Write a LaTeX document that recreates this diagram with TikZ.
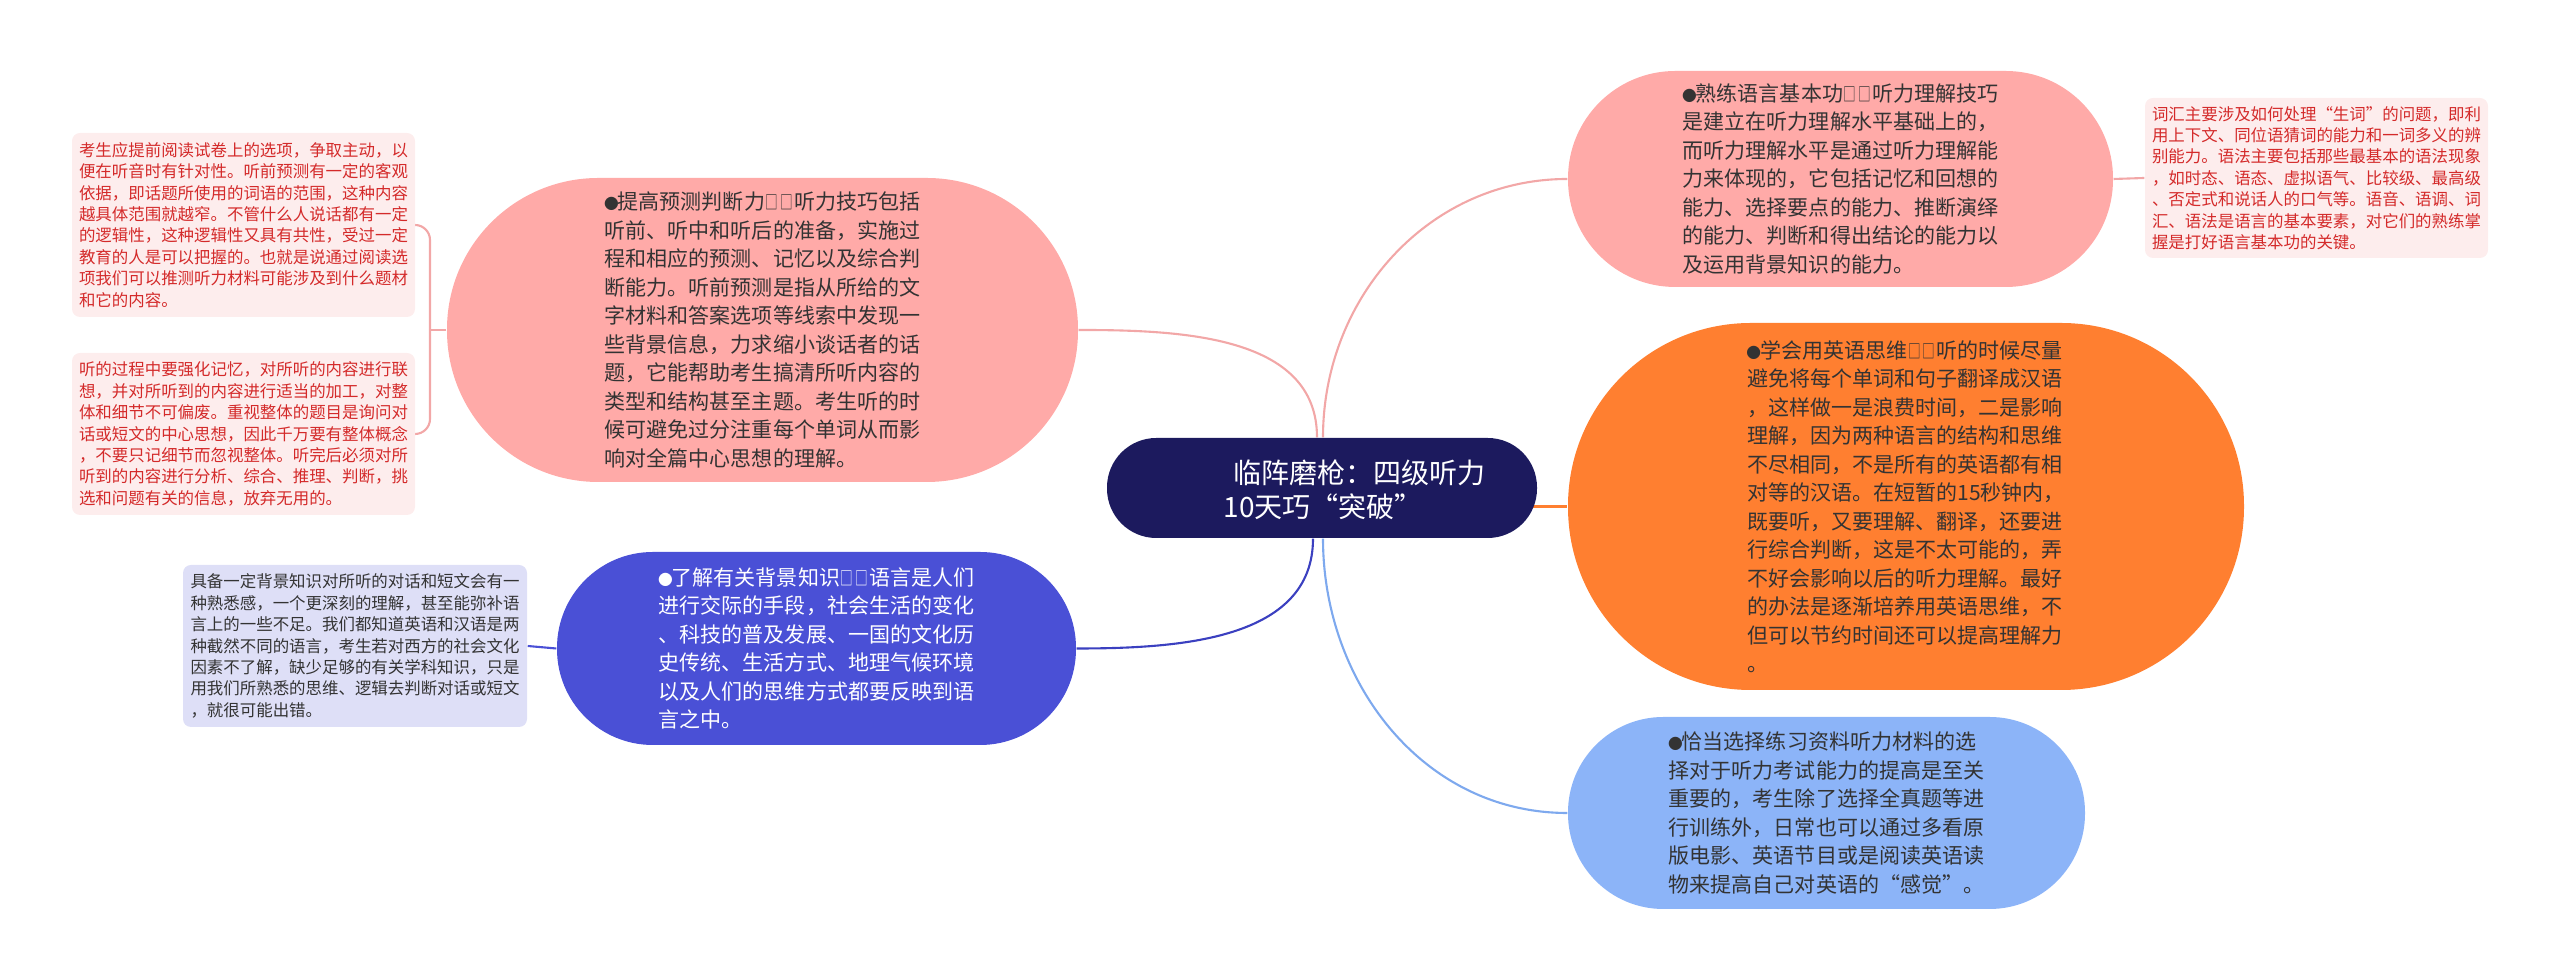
\documentclass[tikz,border=0pt]{standalone}
\usepackage{fontspec}
\setmainfont{Noto Sans CJK SC}
\usetikzlibrary{backgrounds}

\definecolor{rootblue}{HTML}{1C1A5E}
\definecolor{pinkfill}{HTML}{FFAAA8}
\definecolor{pinkline}{HTML}{F2A7A7}
\definecolor{orangefill}{HTML}{FF7F30}
\definecolor{skyfill}{HTML}{8CB4F8}
\definecolor{skyline}{HTML}{7EA9EE}
\definecolor{indigofill}{HTML}{4A50D6}
\definecolor{indigoline}{HTML}{3B40C0}
\definecolor{leafpink}{HTML}{FDEDED}
\definecolor{leafred}{HTML}{D42A2A}
\definecolor{leafblue}{HTML}{DEDFF7}
\definecolor{bodytext}{HTML}{333333}

\newcommand{\bul}{\makebox[0.62em][c]{\scalebox{0.7}{●}}}
\newcommand{\tofu}{\makebox[0.69em][c]{\scalebox{0.6}[0.9]{□}}}

\begin{document}
\begin{tikzpicture}[
  pill/.style 2 args={minimum width=#1, minimum height=#2,
                      rounded corners=#2/2-0.2pt, inner sep=0pt, align=left},
  topictext/.style={font=\fontsize{5.98pt}{8.11pt}\selectfont, text=bodytext, align=left},
  leaf/.style 2 args={minimum width=#1, minimum height=#2, rounded corners=0.08cm,
                      inner sep=0pt, align=left, font=\fontsize{4.68pt}{6.09pt}\selectfont},
  link/.style={line width=0.6pt}
]
\useasboundingbox (0,0) rectangle (25.60,-9.77);

% ---- central topic ----
\node[pill={4.30cm}{1.00cm}, fill=rootblue] (root) at (13.22,-4.88) {};
\node[anchor=west, align=left, text=white, inner sep=0pt,
      font=\fontsize{7.97pt}{9.67pt}\selectfont] (rootlabel) at (12.23,-4.90)
  {\hspace*{0.36em}临阵磨枪：四级听力\\10天巧“突破”};

% ---- right branches ----
\node[pill={5.45cm}{2.16cm}, fill=pinkfill, topictext] (t1) at (18.405,-1.79)
  {\bul 熟练语言基本功\tofu\tofu 听力理解技巧\\
   是建立在听力理解水平基础上的，\\
   而听力理解水平是通过听力理解能\\
   力来体现的，它包括记忆和回想的\\
   能力、选择要点的能力、推断演绎\\
   的能力、判断和得出结论的能力以\\
   及运用背景知识的能力。};

\node[pill={6.76cm}{3.67cm}, fill=orangefill, topictext] (t2) at (19.06,-5.065)
  {\bul 学会用英语思维\tofu\tofu 听的时候尽量\\
   避免将每个单词和句子翻译成汉语\\
   ，这样做一是浪费时间，二是影响\\
   理解，因为两种语言的结构和思维\\
   不尽相同，不是所有的英语都有相\\
   对等的汉语。在短暂的15秒钟内，\\
   既要听，又要理解、翻译，还要进\\
   行综合判断，这是不太可能的，弄\\
   不好会影响以后的听力理解。最好\\
   的办法是逐渐培养用英语思维，不\\
   但可以节约时间还可以提高理解力\\
   。};

\node[pill={5.17cm}{1.92cm}, fill=skyfill, topictext] (t3) at (18.265,-8.13)
  {\bul 恰当选择练习资料听力材料的选\\
   择对于听力考试能力的提高是至关\\
   重要的，考生除了选择全真题等进\\
   行训练外，日常也可以通过多看原\\
   版电影、英语节目或是阅读英语读\\
   物来提高自己对英语的“感觉”。};

% ---- left branches ----
\node[pill={6.31cm}{3.04cm}, fill=pinkfill, topictext] (t4) at (7.625,-3.30)
  {\bul 提高预测判断力\tofu\tofu 听力技巧包括\\
   听前、听中和听后的准备，实施过\\
   程和相应的预测、记忆以及综合判\\
   断能力。听前预测是指从所给的文\\
   字材料和答案选项等线索中发现一\\
   些背景信息，力求缩小谈话者的话\\
   题，它能帮助考生搞清所听内容的\\
   类型和结构甚至主题。考生听的时\\
   候可避免过分注重每个单词从而影\\
   响对全篇中心思想的理解。};

\node[pill={5.19cm}{1.93cm}, fill=indigofill, topictext, text=white] (t5) at (8.165,-6.485)
  {\bul 了解有关背景知识\tofu\tofu 语言是人们\\
   进行交际的手段，社会生活的变化\\
   、科技的普及发展、一国的文化历\\
   史传统、生活方式、地理气候环境\\
   以及人们的思维方式都要反映到语\\
   言之中。};

% ---- leaves ----
\node[leaf={3.43cm}{1.84cm}, fill=leafpink, text=leafred] (l1) at (2.435,-2.25)
  {考生应提前阅读试卷上的选项，争取主动，以\\
   便在听音时有针对性。听前预测有一定的客观\\
   依据，即话题所使用的词语的范围，这种内容\\
   越具体范围就越窄。不管什么人说话都有一定\\
   的逻辑性，这种逻辑性又具有共性，受过一定\\
   教育的人是可以把握的。也就是说通过阅读选\\
   项我们可以推测听力材料可能涉及到什么题材\\
   和它的内容。};

\node[leaf={3.43cm}{1.62cm}, fill=leafpink, text=leafred] (l2) at (2.435,-4.34)
  {听的过程中要强化记忆，对所听的内容进行联\\
   想，并对所听到的内容进行适当的加工，对整\\
   体和细节不可偏废。重视整体的题目是询问对\\
   话或短文的中心思想，因此千万要有整体概念\\
   ，不要只记细节而忽视整体。听完后必须对所\\
   听到的内容进行分析、综合、推理、判断，挑\\
   选和问题有关的信息，放弃无用的。};

\node[leaf={3.44cm}{1.62cm}, fill=leafblue, text=bodytext] (l3) at (3.55,-6.46)
  {具备一定背景知识对所听的对话和短文会有一\\
   种熟悉感，一个更深刻的理解，甚至能弥补语\\
   言上的一些不足。我们都知道英语和汉语是两\\
   种截然不同的语言，考生若对西方的社会文化\\
   因素不了解，缺少足够的有关学科知识，只是\\
   用我们所熟悉的思维、逻辑去判断对话或短文\\
   ，就很可能出错。};

\node[leaf={3.43cm}{1.60cm}, fill=leafpink, text=leafred] (l4) at (23.165,-1.78)
  {词汇主要涉及如何处理“生词”的问题，即利\\
   用上下文、同位语猜词的能力和一词多义的辨\\
   别能力。语法主要包括那些最基本的语法现象\\
   ，如时态、语态、虚拟语气、比较级、最高级\\
   、否定式和说话人的口气等。语音、语调、词\\
   汇、语法是语言的基本要素，对它们的熟练掌\\
   握是打好语言基本功的关键。};

\coordinate (fork) at (4.30,-3.30);

% ---- connectors ----
\begin{scope}[on background layer]
\draw[link, pinkline] ([xshift=0.01cm]root.north) to[out=90,in=180] (t1.west);
\draw[link, orangefill] (t2.west -| root.center) -- (t2.west);
\draw[link, skyline] ([xshift=0.01cm]root.south) to[out=-90,in=180] (t3.west);
\draw[link, pinkline] ([xshift=-0.05cm]root.north) to[out=90,in=0] (t4.east);
\draw[link, indigoline] ([xshift=-0.09cm]root.south) to[out=-90,in=0] (t5.east);
\draw[link, pinkline] (t4.west) -- (fork);
\draw[link, pinkline, rounded corners=0.15cm] (fork) |- (l1.east);
\draw[link, pinkline, rounded corners=0.15cm] (fork) |- (l2.east);
\draw[link, indigofill] (t5.west) -- (l3.east);
\draw[link, pinkline] (t1.east) -- (l4.west);
\end{scope}

\end{tikzpicture}
\end{document}
